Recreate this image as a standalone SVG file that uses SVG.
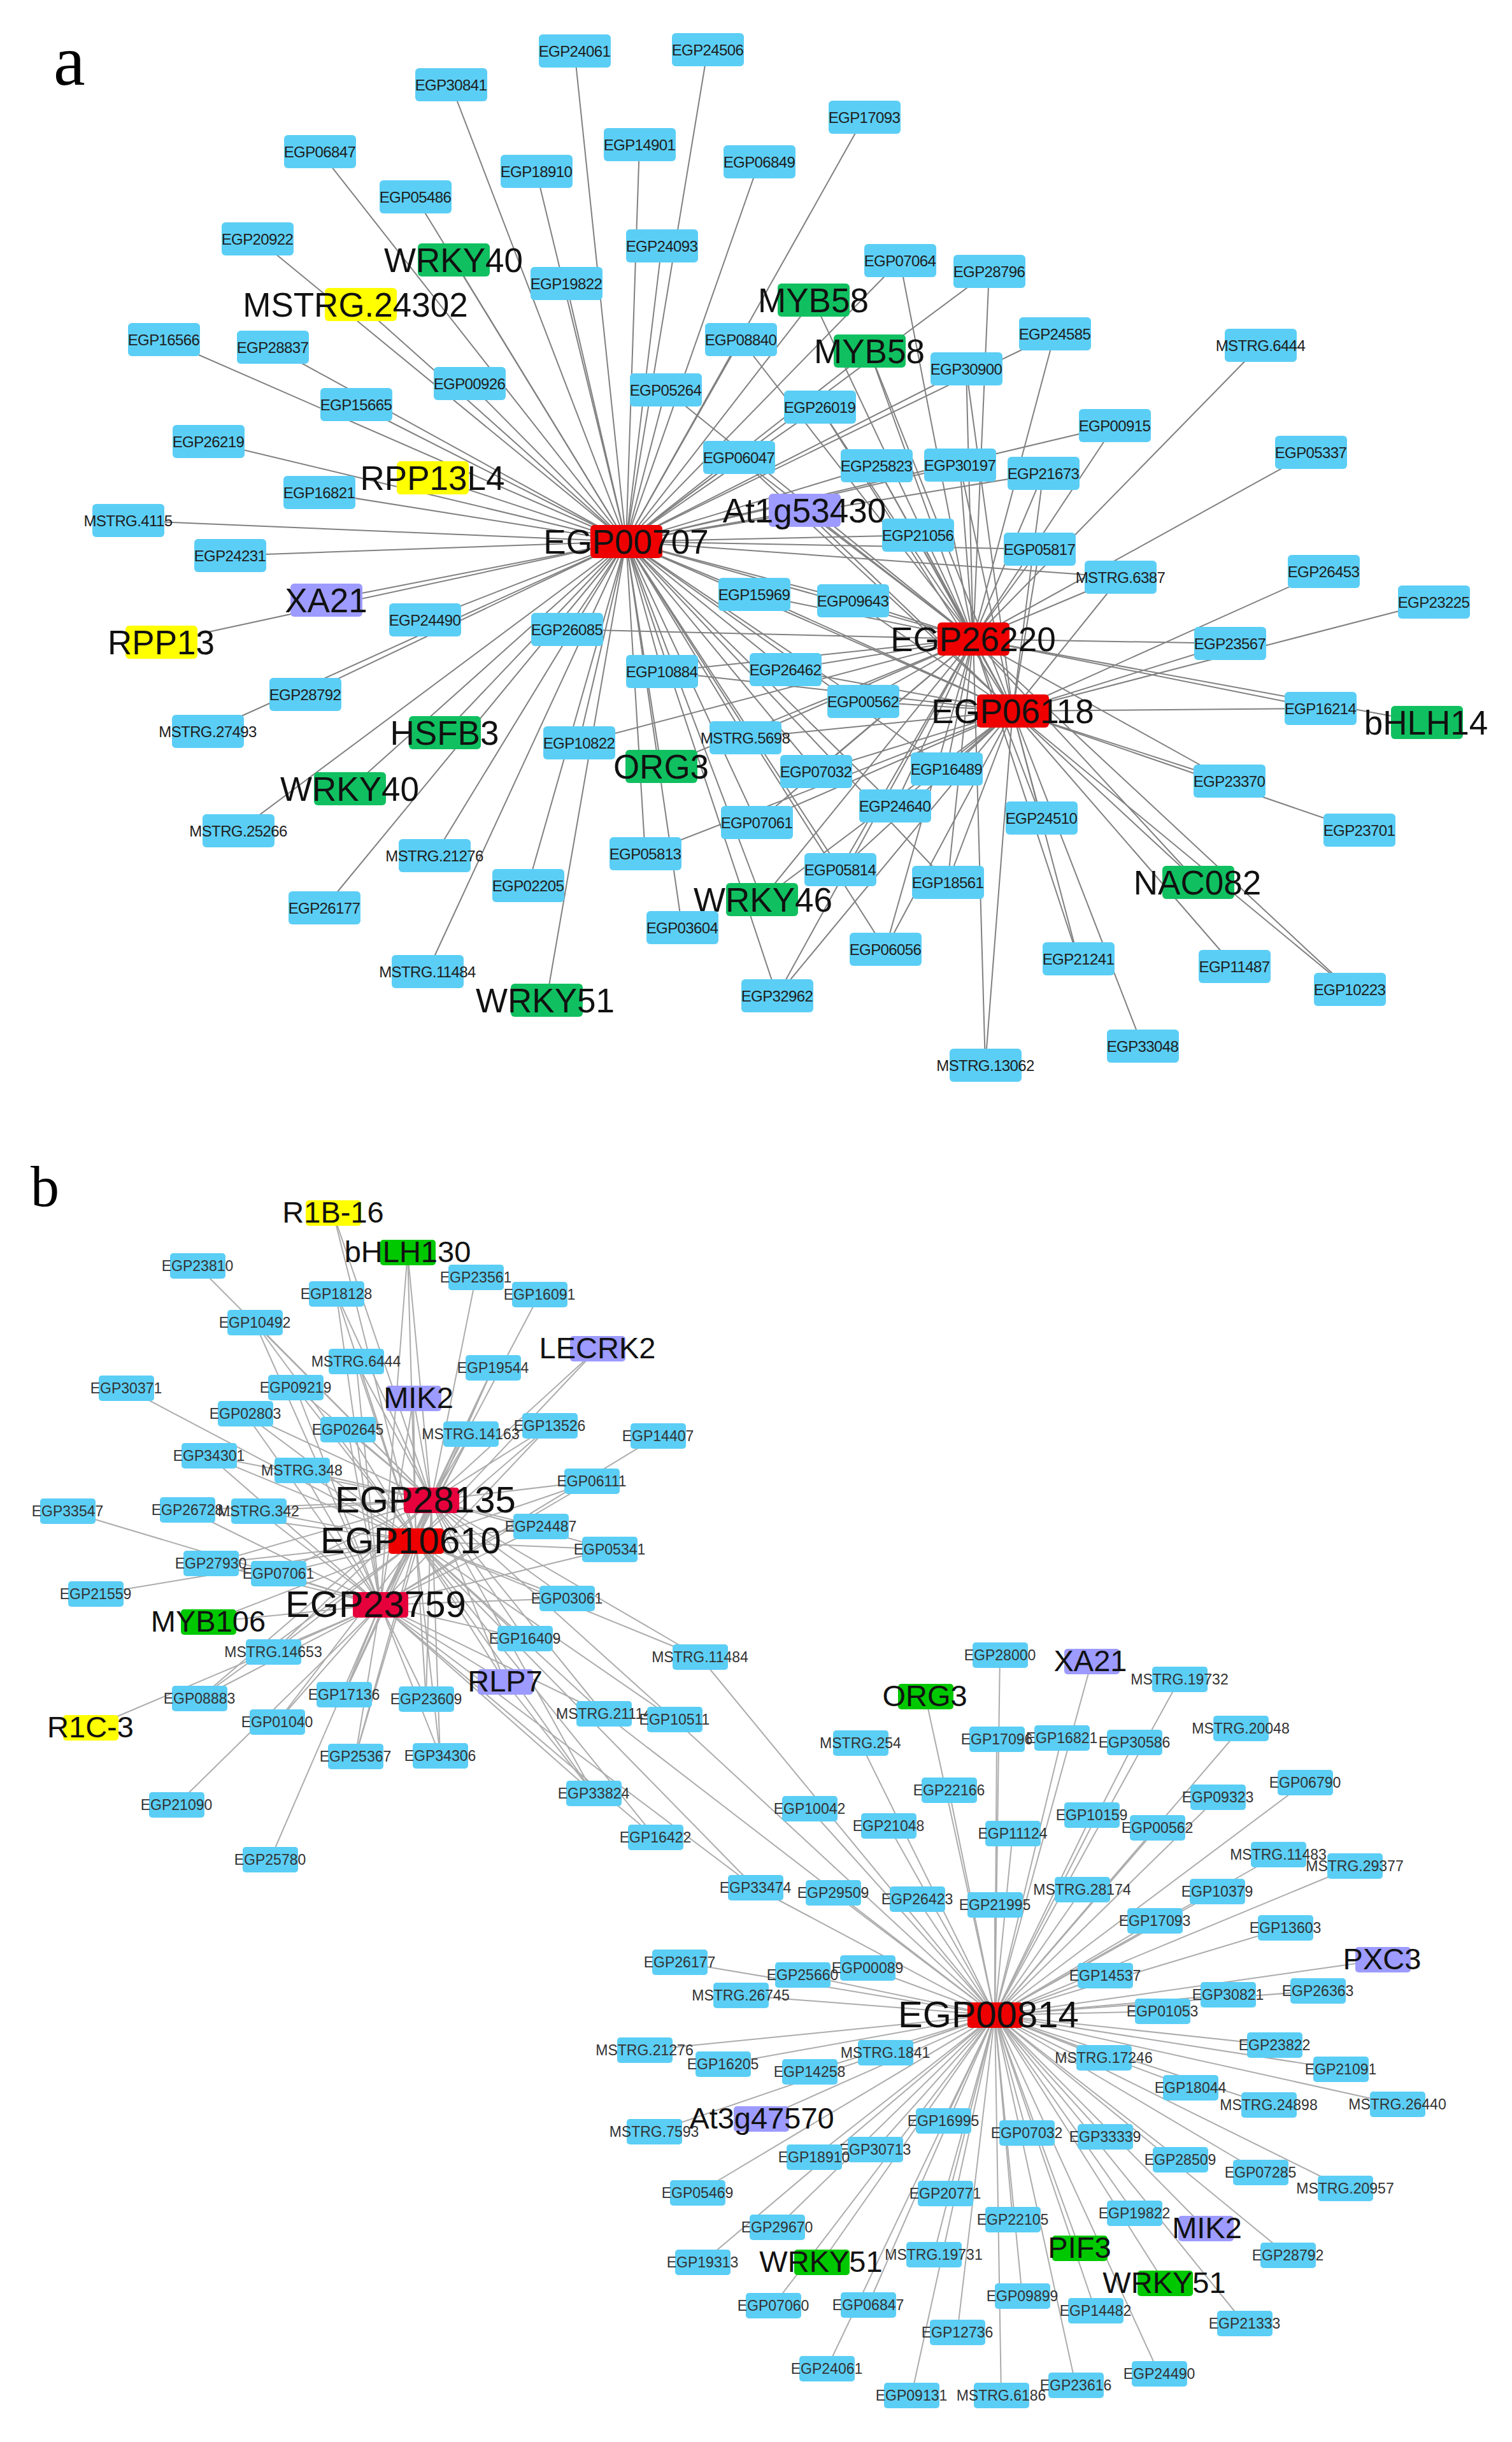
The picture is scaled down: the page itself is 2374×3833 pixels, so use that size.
<svg xmlns="http://www.w3.org/2000/svg" width="2374" height="3833" viewBox="0 0 2374 3833">
<style>
.ea path{stroke:#808080;stroke-width:2;fill:none}
.eb path{stroke:#acacac;stroke-width:2;fill:none}
.bl{fill:#5BCEF5}.ga{fill:#10C060}.gb{fill:#00C800}.ye{fill:#FFFF00}.pu{fill:#9D9BFF}.rd{fill:#EE0000}.cr{fill:#E6003C}
text{font-family:'Liberation Sans',Arial,sans-serif;text-anchor:middle;dominant-baseline:central}
.s{font-size:24px;letter-spacing:-0.6px;fill:#1e1e1e}
.L{font-size:53px;fill:#111}
.t{font-size:23px;fill:#333}
.M{font-size:47px;fill:#111}
.H{font-size:58px;fill:#111}
.pl{font-family:'Liberation Serif','Times New Roman',serif;text-anchor:start;dominant-baseline:alphabetic;fill:#000}
</style>
<rect width="2374" height="3833" fill="#fff"/>
<text class="pl" x="84" y="133" font-size="112">a</text>
<text class="pl" x="48" y="1893" font-size="90">b</text>
<g id="connectors-a" class="ea">
<path d="M983 850L902 80"/><path d="M983 850L1111 78"/><path d="M983 850L708 133"/><path d="M983 850L1357 184"/><path d="M983 850L502 238"/><path d="M983 850L1004 227"/><path d="M983 850L842 269"/><path d="M983 850L1192 254"/><path d="M983 850L652 309"/><path d="M983 850L404 375"/><path d="M983 850L712 408"/><path d="M983 850L889 445"/><path d="M983 850L1039 386"/><path d="M983 850L1413 409"/><path d="M983 850L1553 426"/><path d="M983 850L566 478"/><path d="M983 850L1277 471"/><path d="M983 850L1163 533"/><path d="M983 850L1365 551"/><path d="M983 850L1656 524"/><path d="M983 850L257 533"/><path d="M983 850L428 545"/><path d="M983 850L737 602"/><path d="M983 850L1045 612"/><path d="M983 850L1517 579"/><path d="M983 850L559 635"/><path d="M983 850L1287 639"/><path d="M983 850L1750 668"/><path d="M983 850L327 693"/><path d="M983 850L679 750"/><path d="M983 850L1160 718"/><path d="M983 850L1376 731"/><path d="M983 850L1507 730"/><path d="M983 850L1638 743"/><path d="M983 850L501 773"/><path d="M983 850L1263 801"/><path d="M983 850L201 817"/><path d="M983 850L1441 840"/><path d="M983 850L1632 862"/><path d="M983 850L361 872"/><path d="M983 850L1759 906"/><path d="M983 850L512 942"/><path d="M983 850L1184 933"/><path d="M983 850L1339 943"/><path d="M983 850L253 1008"/><path d="M983 850L667 973"/><path d="M983 850L890 988"/><path d="M983 850L1039 1054"/><path d="M983 850L1233 1051"/><path d="M983 850L479 1090"/><path d="M983 850L1355 1101"/><path d="M983 850L326 1148"/><path d="M983 850L698 1150"/><path d="M983 850L909 1166"/><path d="M983 850L1170 1158"/><path d="M983 850L1038 1203"/><path d="M983 850L1281 1211"/><path d="M983 850L1486 1207"/><path d="M983 850L549 1238"/><path d="M983 850L1188 1291"/><path d="M983 850L1405 1265"/><path d="M983 850L374 1304"/><path d="M983 850L682 1343"/><path d="M983 850L1013 1340"/><path d="M983 850L829 1390"/><path d="M983 850L1319 1365"/><path d="M983 850L1196 1412"/><path d="M983 850L1488 1385"/><path d="M983 850L509 1425"/><path d="M983 850L1071 1456"/><path d="M983 850L1390 1490"/><path d="M983 850L671 1525"/><path d="M983 850L858 1570"/><path d="M983 850L1220 1563"/><path d="M983 850L1528 1003"/><path d="M983 850L1590 1116"/>
<path d="M1528 1003L1413 409"/><path d="M1528 1003L1553 426"/><path d="M1528 1003L1277 471"/><path d="M1528 1003L1163 533"/><path d="M1528 1003L1365 551"/><path d="M1528 1003L1656 524"/><path d="M1528 1003L1979 542"/><path d="M1528 1003L1045 612"/><path d="M1528 1003L1517 579"/><path d="M1528 1003L1287 639"/><path d="M1528 1003L1750 668"/><path d="M1528 1003L1160 718"/><path d="M1528 1003L1376 731"/><path d="M1528 1003L1507 730"/><path d="M1528 1003L1638 743"/><path d="M1528 1003L2058 710"/><path d="M1528 1003L1263 801"/><path d="M1528 1003L1441 840"/><path d="M1528 1003L1632 862"/><path d="M1528 1003L1759 906"/><path d="M1528 1003L1184 933"/><path d="M1528 1003L1339 943"/><path d="M1528 1003L890 988"/><path d="M1528 1003L1931 1010"/><path d="M1528 1003L1039 1054"/><path d="M1528 1003L1233 1051"/><path d="M1528 1003L1355 1101"/><path d="M1528 1003L2073 1112"/><path d="M1528 1003L2240 1134"/><path d="M1528 1003L909 1166"/><path d="M1528 1003L1170 1158"/><path d="M1528 1003L1038 1203"/><path d="M1528 1003L1281 1211"/><path d="M1528 1003L1486 1207"/><path d="M1528 1003L1930 1226"/><path d="M1528 1003L1188 1291"/><path d="M1528 1003L1405 1265"/><path d="M1528 1003L1635 1284"/><path d="M1528 1003L1319 1365"/><path d="M1528 1003L1196 1412"/><path d="M1528 1003L1881 1385"/><path d="M1528 1003L1488 1385"/><path d="M1528 1003L1390 1490"/><path d="M1528 1003L1693 1505"/><path d="M1528 1003L2119 1553"/><path d="M1528 1003L1220 1563"/><path d="M1528 1003L1547 1672"/><path d="M1528 1003L1590 1116"/>
<path d="M1590 1116L1365 551"/><path d="M1590 1116L1517 579"/><path d="M1590 1116L1287 639"/><path d="M1590 1116L1160 718"/><path d="M1590 1116L1376 731"/><path d="M1590 1116L1507 730"/><path d="M1590 1116L1638 743"/><path d="M1590 1116L1263 801"/><path d="M1590 1116L1441 840"/><path d="M1590 1116L1632 862"/><path d="M1590 1116L1759 906"/><path d="M1590 1116L2078 897"/><path d="M1590 1116L1184 933"/><path d="M1590 1116L1339 943"/><path d="M1590 1116L2251 945"/><path d="M1590 1116L1931 1010"/><path d="M1590 1116L1039 1054"/><path d="M1590 1116L1233 1051"/><path d="M1590 1116L1355 1101"/><path d="M1590 1116L2073 1112"/><path d="M1590 1116L1170 1158"/><path d="M1590 1116L1281 1211"/><path d="M1590 1116L1486 1207"/><path d="M1590 1116L1930 1226"/><path d="M1590 1116L1188 1291"/><path d="M1590 1116L1405 1265"/><path d="M1590 1116L1635 1284"/><path d="M1590 1116L2134 1303"/><path d="M1590 1116L1013 1340"/><path d="M1590 1116L1319 1365"/><path d="M1590 1116L1196 1412"/><path d="M1590 1116L1881 1385"/><path d="M1590 1116L1488 1385"/><path d="M1590 1116L1390 1490"/><path d="M1590 1116L1693 1505"/><path d="M1590 1116L1938 1517"/><path d="M1590 1116L2119 1553"/><path d="M1590 1116L1220 1563"/><path d="M1590 1116L1794 1642"/><path d="M1590 1116L1547 1672"/>
</g>
<g id="connectors-b" class="eb">
<path d="M677 2355L523 1904"/><path d="M677 2355L640 1966"/><path d="M677 2355L310 1987"/><path d="M677 2355L747 2005"/><path d="M677 2355L528 2031"/><path d="M677 2355L847 2032"/><path d="M677 2355L400 2076"/><path d="M677 2355L938 2117"/><path d="M677 2355L559 2137"/><path d="M677 2355L774 2147"/><path d="M677 2355L464 2178"/><path d="M677 2355L649 2195"/><path d="M677 2355L385 2219"/><path d="M677 2355L863 2238"/><path d="M677 2355L546 2244"/><path d="M677 2355L739 2251"/><path d="M677 2355L328 2285"/><path d="M677 2355L474 2308"/><path d="M677 2355L929 2325"/><path d="M677 2355L294 2370"/><path d="M677 2355L406 2372"/><path d="M677 2355L849 2396"/><path d="M677 2355L957 2432"/><path d="M677 2355L331 2454"/><path d="M677 2355L437 2470"/><path d="M677 2355L890 2509"/><path d="M677 2355L824 2572"/><path d="M677 2355L429 2593"/><path d="M677 2355L1099 2601"/><path d="M677 2355L793 2640"/><path d="M677 2355L540 2660"/><path d="M677 2355L313 2666"/><path d="M677 2355L669 2667"/><path d="M677 2355L948 2690"/><path d="M677 2355L1059 2699"/><path d="M677 2355L558 2757"/><path d="M677 2355L691 2756"/><path d="M677 2355L932 2815"/><path d="M677 2355L653 2419"/><path d="M677 2355L597 2519"/>
<path d="M653 2419L523 1904"/><path d="M653 2419L640 1966"/><path d="M653 2419L528 2031"/><path d="M653 2419L400 2076"/><path d="M653 2419L938 2117"/><path d="M653 2419L559 2137"/><path d="M653 2419L774 2147"/><path d="M653 2419L198 2179"/><path d="M653 2419L464 2178"/><path d="M653 2419L649 2195"/><path d="M653 2419L385 2219"/><path d="M653 2419L863 2238"/><path d="M653 2419L546 2244"/><path d="M653 2419L739 2251"/><path d="M653 2419L328 2285"/><path d="M653 2419L474 2308"/><path d="M653 2419L929 2325"/><path d="M653 2419L294 2370"/><path d="M653 2419L406 2372"/><path d="M653 2419L849 2396"/><path d="M653 2419L957 2432"/><path d="M653 2419L331 2454"/><path d="M653 2419L437 2470"/><path d="M653 2419L150 2502"/><path d="M653 2419L890 2509"/><path d="M653 2419L327 2546"/><path d="M653 2419L824 2572"/><path d="M653 2419L429 2593"/><path d="M653 2419L1099 2601"/><path d="M653 2419L793 2640"/><path d="M653 2419L540 2660"/><path d="M653 2419L313 2666"/><path d="M653 2419L669 2667"/><path d="M653 2419L948 2690"/><path d="M653 2419L1059 2699"/><path d="M653 2419L435 2703"/><path d="M653 2419L558 2757"/><path d="M653 2419L691 2756"/><path d="M653 2419L932 2815"/><path d="M653 2419L1029 2884"/><path d="M653 2419L1186 2963"/><path d="M653 2419L597 2519"/>
<path d="M597 2519L640 1966"/><path d="M597 2519L528 2031"/><path d="M597 2519L400 2076"/><path d="M597 2519L559 2137"/><path d="M597 2519L774 2147"/><path d="M597 2519L464 2178"/><path d="M597 2519L649 2195"/><path d="M597 2519L385 2219"/><path d="M597 2519L863 2238"/><path d="M597 2519L546 2244"/><path d="M597 2519L739 2251"/><path d="M597 2519L1033 2254"/><path d="M597 2519L328 2285"/><path d="M597 2519L474 2308"/><path d="M597 2519L929 2325"/><path d="M597 2519L106 2372"/><path d="M597 2519L294 2370"/><path d="M597 2519L406 2372"/><path d="M597 2519L849 2396"/><path d="M597 2519L957 2432"/><path d="M597 2519L331 2454"/><path d="M597 2519L437 2470"/><path d="M597 2519L890 2509"/><path d="M597 2519L327 2546"/><path d="M597 2519L824 2572"/><path d="M597 2519L429 2593"/><path d="M597 2519L793 2640"/><path d="M597 2519L540 2660"/><path d="M597 2519L313 2666"/><path d="M597 2519L669 2667"/><path d="M597 2519L948 2690"/><path d="M597 2519L435 2703"/><path d="M597 2519L142 2712"/><path d="M597 2519L558 2757"/><path d="M597 2519L691 2756"/><path d="M597 2519L932 2815"/><path d="M597 2519L277 2833"/><path d="M597 2519L1029 2884"/><path d="M597 2519L424 2919"/><path d="M597 2519L1186 2963"/>
<path d="M793 2640L932 2815"/>
<path d="M1562 3163L1099 2601"/><path d="M1562 3163L948 2690"/><path d="M1562 3163L1059 2699"/><path d="M1562 3163L1186 2963"/>
<path d="M1562 3163L1570 2598"/><path d="M1562 3163L1714 2608"/><path d="M1562 3163L1852 2636"/><path d="M1562 3163L1453 2663"/><path d="M1562 3163L1948 2713"/><path d="M1562 3163L1565 2730"/><path d="M1562 3163L1667 2728"/><path d="M1562 3163L1781 2735"/><path d="M1562 3163L1351 2736"/><path d="M1562 3163L2049 2798"/><path d="M1562 3163L1490 2810"/><path d="M1562 3163L1912 2821"/><path d="M1562 3163L1271 2839"/><path d="M1562 3163L1714 2849"/><path d="M1562 3163L1395 2866"/><path d="M1562 3163L1817 2869"/><path d="M1562 3163L1590 2878"/><path d="M1562 3163L2007 2911"/><path d="M1562 3163L2127 2929"/><path d="M1562 3163L1699 2966"/><path d="M1562 3163L1911 2969"/><path d="M1562 3163L1308 2971"/><path d="M1562 3163L1440 2981"/><path d="M1562 3163L1562 2990"/><path d="M1562 3163L1813 3015"/><path d="M1562 3163L2018 3026"/><path d="M1562 3163L2171 3076"/><path d="M1562 3163L1067 3080"/><path d="M1562 3163L1362 3089"/><path d="M1562 3163L1260 3100"/><path d="M1562 3163L1735 3101"/><path d="M1562 3163L2069 3125"/><path d="M1562 3163L1928 3131"/><path d="M1562 3163L1163 3132"/><path d="M1562 3163L1825 3157"/><path d="M1562 3163L2001 3210"/><path d="M1562 3163L1012 3218"/><path d="M1562 3163L1390 3222"/><path d="M1562 3163L1733 3230"/><path d="M1562 3163L1135 3240"/><path d="M1562 3163L2105 3248"/><path d="M1562 3163L1271 3252"/><path d="M1562 3163L1869 3277"/><path d="M1562 3163L1992 3304"/><path d="M1562 3163L2194 3303"/><path d="M1562 3163L1195 3326"/><path d="M1562 3163L1481 3329"/><path d="M1562 3163L1027 3346"/><path d="M1562 3163L1612 3348"/><path d="M1562 3163L1735 3354"/><path d="M1562 3163L1374 3374"/><path d="M1562 3163L1278 3386"/><path d="M1562 3163L1853 3390"/><path d="M1562 3163L1979 3410"/><path d="M1562 3163L2112 3435"/><path d="M1562 3163L1095 3442"/><path d="M1562 3163L1484 3443"/><path d="M1562 3163L1781 3474"/><path d="M1562 3163L1590 3484"/><path d="M1562 3163L1220 3496"/><path d="M1562 3163L1893 3498"/><path d="M1562 3163L1695 3529"/><path d="M1562 3163L1466 3539"/><path d="M1562 3163L2022 3540"/><path d="M1562 3163L1103 3551"/><path d="M1562 3163L1290 3551"/><path d="M1562 3163L1829 3584"/><path d="M1562 3163L1605 3604"/><path d="M1562 3163L1363 3618"/><path d="M1562 3163L1214 3619"/><path d="M1562 3163L1720 3627"/><path d="M1562 3163L1954 3647"/><path d="M1562 3163L1503 3661"/><path d="M1562 3163L1298 3718"/><path d="M1562 3163L1820 3726"/><path d="M1562 3163L1689 3744"/><path d="M1562 3163L1431 3760"/><path d="M1562 3163L1572 3760"/>
</g>
<g id="nodes-a">
<g id="a-EGP24061"><rect class="bl" x="846" y="54" width="113" height="52" rx="6"/><text class="s" x="902" y="80">EGP24061</text></g>
<g id="a-EGP24506"><rect class="bl" x="1055" y="52" width="113" height="52" rx="6"/><text class="s" x="1111" y="78">EGP24506</text></g>
<g id="a-EGP30841"><rect class="bl" x="652" y="107" width="113" height="52" rx="6"/><text class="s" x="708" y="133">EGP30841</text></g>
<g id="a-EGP17093"><rect class="bl" x="1301" y="158" width="113" height="52" rx="6"/><text class="s" x="1357" y="184">EGP17093</text></g>
<g id="a-EGP06847"><rect class="bl" x="446" y="212" width="113" height="52" rx="6"/><text class="s" x="502" y="238">EGP06847</text></g>
<g id="a-EGP14901"><rect class="bl" x="948" y="201" width="113" height="52" rx="6"/><text class="s" x="1004" y="227">EGP14901</text></g>
<g id="a-EGP18910"><rect class="bl" x="786" y="243" width="113" height="52" rx="6"/><text class="s" x="842" y="269">EGP18910</text></g>
<g id="a-EGP06849"><rect class="bl" x="1136" y="228" width="113" height="52" rx="6"/><text class="s" x="1192" y="254">EGP06849</text></g>
<g id="a-EGP05486"><rect class="bl" x="596" y="283" width="113" height="52" rx="6"/><text class="s" x="652" y="309">EGP05486</text></g>
<g id="a-EGP20922"><rect class="bl" x="348" y="349" width="113" height="52" rx="6"/><text class="s" x="404" y="375">EGP20922</text></g>
<g id="a-WRKY40-1"><rect class="ga" x="656" y="382" width="113" height="52" rx="6"/><text class="L" x="712" y="408">WRKY40</text></g>
<g id="a-EGP19822"><rect class="bl" x="833" y="419" width="113" height="52" rx="6"/><text class="s" x="889" y="445">EGP19822</text></g>
<g id="a-EGP24093"><rect class="bl" x="983" y="360" width="113" height="52" rx="6"/><text class="s" x="1039" y="386">EGP24093</text></g>
<g id="a-EGP07064"><rect class="bl" x="1357" y="383" width="113" height="52" rx="6"/><text class="s" x="1413" y="409">EGP07064</text></g>
<g id="a-EGP28796"><rect class="bl" x="1497" y="400" width="113" height="52" rx="6"/><text class="s" x="1553" y="426">EGP28796</text></g>
<g id="a-MSTRG.24302"><rect class="ye" x="510" y="452" width="113" height="52" rx="6"/><text class="L" x="558" y="478">MSTRG.24302</text></g>
<g id="a-MYB58-1"><rect class="ga" x="1221" y="445" width="113" height="52" rx="6"/><text class="L" x="1277" y="471">MYB58</text></g>
<g id="a-EGP08840"><rect class="bl" x="1107" y="507" width="113" height="52" rx="6"/><text class="s" x="1163" y="533">EGP08840</text></g>
<g id="a-MYB58-2"><rect class="ga" x="1309" y="525" width="113" height="52" rx="6"/><text class="L" x="1365" y="551">MYB58</text></g>
<g id="a-EGP24585"><rect class="bl" x="1600" y="498" width="113" height="52" rx="6"/><text class="s" x="1656" y="524">EGP24585</text></g>
<g id="a-MSTRG.6444"><rect class="bl" x="1923" y="516" width="113" height="52" rx="6"/><text class="s" x="1979" y="542">MSTRG.6444</text></g>
<g id="a-EGP16566"><rect class="bl" x="201" y="507" width="113" height="52" rx="6"/><text class="s" x="257" y="533">EGP16566</text></g>
<g id="a-EGP28837"><rect class="bl" x="372" y="519" width="113" height="52" rx="6"/><text class="s" x="428" y="545">EGP28837</text></g>
<g id="a-EGP00926"><rect class="bl" x="681" y="576" width="113" height="52" rx="6"/><text class="s" x="737" y="602">EGP00926</text></g>
<g id="a-EGP05264"><rect class="bl" x="989" y="586" width="113" height="52" rx="6"/><text class="s" x="1045" y="612">EGP05264</text></g>
<g id="a-EGP30900"><rect class="bl" x="1461" y="553" width="113" height="52" rx="6"/><text class="s" x="1517" y="579">EGP30900</text></g>
<g id="a-EGP15665"><rect class="bl" x="503" y="609" width="113" height="52" rx="6"/><text class="s" x="559" y="635">EGP15665</text></g>
<g id="a-EGP26019"><rect class="bl" x="1231" y="613" width="113" height="52" rx="6"/><text class="s" x="1287" y="639">EGP26019</text></g>
<g id="a-EGP00915"><rect class="bl" x="1694" y="642" width="113" height="52" rx="6"/><text class="s" x="1750" y="668">EGP00915</text></g>
<g id="a-EGP26219"><rect class="bl" x="271" y="667" width="113" height="52" rx="6"/><text class="s" x="327" y="693">EGP26219</text></g>
<g id="a-RPP13L4"><rect class="ye" x="623" y="724" width="113" height="52" rx="6"/><text class="L" x="679" y="750">RPP13L4</text></g>
<g id="a-EGP06047"><rect class="bl" x="1104" y="692" width="113" height="52" rx="6"/><text class="s" x="1160" y="718">EGP06047</text></g>
<g id="a-EGP25823"><rect class="bl" x="1320" y="705" width="113" height="52" rx="6"/><text class="s" x="1376" y="731">EGP25823</text></g>
<g id="a-EGP30197"><rect class="bl" x="1451" y="704" width="113" height="52" rx="6"/><text class="s" x="1507" y="730">EGP30197</text></g>
<g id="a-EGP21673"><rect class="bl" x="1582" y="717" width="113" height="52" rx="6"/><text class="s" x="1638" y="743">EGP21673</text></g>
<g id="a-EGP05337"><rect class="bl" x="2002" y="684" width="113" height="52" rx="6"/><text class="s" x="2058" y="710">EGP05337</text></g>
<g id="a-EGP16821"><rect class="bl" x="445" y="747" width="113" height="52" rx="6"/><text class="s" x="501" y="773">EGP16821</text></g>
<g id="a-At1g53430"><rect class="pu" x="1207" y="775" width="113" height="52" rx="6"/><text class="L" x="1263" y="801">At1g53430</text></g>
<g id="a-MSTRG.4115"><rect class="bl" x="145" y="791" width="113" height="52" rx="6"/><text class="s" x="201" y="817">MSTRG.4115</text></g>
<g id="a-EGP21056"><rect class="bl" x="1385" y="814" width="113" height="52" rx="6"/><text class="s" x="1441" y="840">EGP21056</text></g>
<g id="a-EGP05817"><rect class="bl" x="1576" y="836" width="113" height="52" rx="6"/><text class="s" x="1632" y="862">EGP05817</text></g>
<g id="a-EGP24231"><rect class="bl" x="305" y="846" width="113" height="52" rx="6"/><text class="s" x="361" y="872">EGP24231</text></g>
<g id="a-MSTRG.6387"><rect class="bl" x="1703" y="880" width="113" height="52" rx="6"/><text class="s" x="1759" y="906">MSTRG.6387</text></g>
<g id="a-EGP26453"><rect class="bl" x="2022" y="871" width="113" height="52" rx="6"/><text class="s" x="2078" y="897">EGP26453</text></g>
<g id="a-XA21"><rect class="pu" x="456" y="916" width="113" height="52" rx="6"/><text class="L" x="512" y="942">XA21</text></g>
<g id="a-EGP15969"><rect class="bl" x="1128" y="907" width="113" height="52" rx="6"/><text class="s" x="1184" y="933">EGP15969</text></g>
<g id="a-EGP09643"><rect class="bl" x="1283" y="917" width="113" height="52" rx="6"/><text class="s" x="1339" y="943">EGP09643</text></g>
<g id="a-EGP23225"><rect class="bl" x="2195" y="919" width="113" height="52" rx="6"/><text class="s" x="2251" y="945">EGP23225</text></g>
<g id="a-RPP13"><rect class="ye" x="197" y="982" width="113" height="52" rx="6"/><text class="L" x="253" y="1008">RPP13</text></g>
<g id="a-EGP24490"><rect class="bl" x="611" y="947" width="113" height="52" rx="6"/><text class="s" x="667" y="973">EGP24490</text></g>
<g id="a-EGP26085"><rect class="bl" x="834" y="962" width="113" height="52" rx="6"/><text class="s" x="890" y="988">EGP26085</text></g>
<g id="a-EGP23567"><rect class="bl" x="1875" y="984" width="113" height="52" rx="6"/><text class="s" x="1931" y="1010">EGP23567</text></g>
<g id="a-EGP10884"><rect class="bl" x="983" y="1028" width="113" height="52" rx="6"/><text class="s" x="1039" y="1054">EGP10884</text></g>
<g id="a-EGP26462"><rect class="bl" x="1177" y="1025" width="113" height="52" rx="6"/><text class="s" x="1233" y="1051">EGP26462</text></g>
<g id="a-EGP28792"><rect class="bl" x="423" y="1064" width="113" height="52" rx="6"/><text class="s" x="479" y="1090">EGP28792</text></g>
<g id="a-EGP00562"><rect class="bl" x="1299" y="1075" width="113" height="52" rx="6"/><text class="s" x="1355" y="1101">EGP00562</text></g>
<g id="a-EGP16214"><rect class="bl" x="2017" y="1086" width="113" height="52" rx="6"/><text class="s" x="2073" y="1112">EGP16214</text></g>
<g id="a-bHLH14"><rect class="ga" x="2184" y="1108" width="113" height="52" rx="6"/><text class="L" x="2239" y="1134">bHLH14</text></g>
<g id="a-MSTRG.27493"><rect class="bl" x="270" y="1122" width="113" height="52" rx="6"/><text class="s" x="326" y="1148">MSTRG.27493</text></g>
<g id="a-HSFB3"><rect class="ga" x="642" y="1124" width="113" height="52" rx="6"/><text class="L" x="698" y="1150">HSFB3</text></g>
<g id="a-EGP10822"><rect class="bl" x="853" y="1140" width="113" height="52" rx="6"/><text class="s" x="909" y="1166">EGP10822</text></g>
<g id="a-MSTRG.5698"><rect class="bl" x="1114" y="1132" width="113" height="52" rx="6"/><text class="s" x="1170" y="1158">MSTRG.5698</text></g>
<g id="a-ORG3"><rect class="ga" x="982" y="1177" width="113" height="52" rx="6"/><text class="L" x="1038" y="1203">ORG3</text></g>
<g id="a-EGP07032"><rect class="bl" x="1225" y="1185" width="113" height="52" rx="6"/><text class="s" x="1281" y="1211">EGP07032</text></g>
<g id="a-EGP16489"><rect class="bl" x="1430" y="1181" width="113" height="52" rx="6"/><text class="s" x="1486" y="1207">EGP16489</text></g>
<g id="a-WRKY40-2"><rect class="ga" x="493" y="1212" width="113" height="52" rx="6"/><text class="L" x="549" y="1238">WRKY40</text></g>
<g id="a-EGP23370"><rect class="bl" x="1874" y="1200" width="113" height="52" rx="6"/><text class="s" x="1930" y="1226">EGP23370</text></g>
<g id="a-EGP07061"><rect class="bl" x="1132" y="1265" width="113" height="52" rx="6"/><text class="s" x="1188" y="1291">EGP07061</text></g>
<g id="a-EGP24640"><rect class="bl" x="1349" y="1239" width="113" height="52" rx="6"/><text class="s" x="1405" y="1265">EGP24640</text></g>
<g id="a-EGP24510"><rect class="bl" x="1579" y="1258" width="113" height="52" rx="6"/><text class="s" x="1635" y="1284">EGP24510</text></g>
<g id="a-EGP23701"><rect class="bl" x="2078" y="1277" width="113" height="52" rx="6"/><text class="s" x="2134" y="1303">EGP23701</text></g>
<g id="a-MSTRG.25266"><rect class="bl" x="318" y="1278" width="113" height="52" rx="6"/><text class="s" x="374" y="1304">MSTRG.25266</text></g>
<g id="a-MSTRG.21276"><rect class="bl" x="626" y="1317" width="113" height="52" rx="6"/><text class="s" x="682" y="1343">MSTRG.21276</text></g>
<g id="a-EGP05813"><rect class="bl" x="957" y="1314" width="113" height="52" rx="6"/><text class="s" x="1013" y="1340">EGP05813</text></g>
<g id="a-EGP02205"><rect class="bl" x="773" y="1364" width="113" height="52" rx="6"/><text class="s" x="829" y="1390">EGP02205</text></g>
<g id="a-EGP05814"><rect class="bl" x="1263" y="1339" width="113" height="52" rx="6"/><text class="s" x="1319" y="1365">EGP05814</text></g>
<g id="a-WRKY46"><rect class="ga" x="1140" y="1386" width="113" height="52" rx="6"/><text class="L" x="1198" y="1412">WRKY46</text></g>
<g id="a-NAC082"><rect class="ga" x="1825" y="1359" width="113" height="52" rx="6"/><text class="L" x="1880" y="1385">NAC082</text></g>
<g id="a-EGP18561"><rect class="bl" x="1432" y="1359" width="113" height="52" rx="6"/><text class="s" x="1488" y="1385">EGP18561</text></g>
<g id="a-EGP26177"><rect class="bl" x="453" y="1399" width="113" height="52" rx="6"/><text class="s" x="509" y="1425">EGP26177</text></g>
<g id="a-EGP03604"><rect class="bl" x="1015" y="1430" width="113" height="52" rx="6"/><text class="s" x="1071" y="1456">EGP03604</text></g>
<g id="a-EGP06056"><rect class="bl" x="1334" y="1464" width="113" height="52" rx="6"/><text class="s" x="1390" y="1490">EGP06056</text></g>
<g id="a-EGP21241"><rect class="bl" x="1637" y="1479" width="113" height="52" rx="6"/><text class="s" x="1693" y="1505">EGP21241</text></g>
<g id="a-EGP11487"><rect class="bl" x="1882" y="1491" width="113" height="52" rx="6"/><text class="s" x="1938" y="1517">EGP11487</text></g>
<g id="a-EGP10223"><rect class="bl" x="2063" y="1527" width="113" height="52" rx="6"/><text class="s" x="2119" y="1553">EGP10223</text></g>
<g id="a-MSTRG.11484"><rect class="bl" x="615" y="1499" width="113" height="52" rx="6"/><text class="s" x="671" y="1525">MSTRG.11484</text></g>
<g id="a-WRKY51"><rect class="ga" x="802" y="1544" width="113" height="52" rx="6"/><text class="L" x="856" y="1570">WRKY51</text></g>
<g id="a-EGP32962"><rect class="bl" x="1164" y="1537" width="113" height="52" rx="6"/><text class="s" x="1220" y="1563">EGP32962</text></g>
<g id="a-EGP33048"><rect class="bl" x="1738" y="1616" width="113" height="52" rx="6"/><text class="s" x="1794" y="1642">EGP33048</text></g>
<g id="a-MSTRG.13062"><rect class="bl" x="1491" y="1646" width="113" height="52" rx="6"/><text class="s" x="1547" y="1672">MSTRG.13062</text></g>
<g id="a-EGP00707"><rect class="rd" x="927" y="824" width="113" height="52" rx="6"/><text class="L" x="983" y="850">EGP00707</text></g>
<g id="a-EGP26220"><rect class="rd" x="1472" y="977" width="113" height="52" rx="6"/><text class="L" x="1528" y="1003">EGP26220</text></g>
<g id="a-EGP06118"><rect class="rd" x="1534" y="1090" width="113" height="52" rx="6"/><text class="L" x="1590" y="1116">EGP06118</text></g>
</g>
<g id="nodes-b">
<g id="b-R1B-16"><rect class="ye" x="480" y="1884" width="87" height="40" rx="5"/><text class="M" x="523" y="1902">R1B-16</text></g>
<g id="b-bHLH130"><rect class="gb" x="597" y="1946" width="87" height="40" rx="5"/><text class="M" x="640" y="1964">bHLH130</text></g>
<g id="b-EGP23810"><rect class="bl" x="267" y="1967" width="87" height="40" rx="5"/><text class="t" x="310" y="1987">EGP23810</text></g>
<g id="b-EGP23561"><rect class="bl" x="704" y="1985" width="87" height="40" rx="5"/><text class="t" x="747" y="2005">EGP23561</text></g>
<g id="b-EGP18128"><rect class="bl" x="485" y="2011" width="87" height="40" rx="5"/><text class="t" x="528" y="2031">EGP18128</text></g>
<g id="b-EGP16091"><rect class="bl" x="804" y="2012" width="87" height="40" rx="5"/><text class="t" x="847" y="2032">EGP16091</text></g>
<g id="b-EGP10492"><rect class="bl" x="357" y="2056" width="87" height="40" rx="5"/><text class="t" x="400" y="2076">EGP10492</text></g>
<g id="b-LECRK2"><rect class="pu" x="895" y="2097" width="87" height="40" rx="5"/><text class="M" x="938" y="2115">LECRK2</text></g>
<g id="b-MSTRG.6444"><rect class="bl" x="516" y="2117" width="87" height="40" rx="5"/><text class="t" x="559" y="2137">MSTRG.6444</text></g>
<g id="b-EGP19544"><rect class="bl" x="731" y="2127" width="87" height="40" rx="5"/><text class="t" x="774" y="2147">EGP19544</text></g>
<g id="b-EGP30371"><rect class="bl" x="155" y="2159" width="87" height="40" rx="5"/><text class="t" x="198" y="2179">EGP30371</text></g>
<g id="b-EGP09219"><rect class="bl" x="421" y="2158" width="87" height="40" rx="5"/><text class="t" x="464" y="2178">EGP09219</text></g>
<g id="b-MIK2-1"><rect class="pu" x="606" y="2175" width="87" height="40" rx="5"/><text class="M" x="657" y="2193">MIK2</text></g>
<g id="b-EGP02803"><rect class="bl" x="342" y="2199" width="87" height="40" rx="5"/><text class="t" x="385" y="2219">EGP02803</text></g>
<g id="b-EGP13526"><rect class="bl" x="820" y="2218" width="87" height="40" rx="5"/><text class="t" x="863" y="2238">EGP13526</text></g>
<g id="b-EGP02645"><rect class="bl" x="503" y="2224" width="87" height="40" rx="5"/><text class="t" x="546" y="2244">EGP02645</text></g>
<g id="b-MSTRG.14163"><rect class="bl" x="696" y="2231" width="87" height="40" rx="5"/><text class="t" x="739" y="2251">MSTRG.14163</text></g>
<g id="b-EGP14407"><rect class="bl" x="990" y="2234" width="87" height="40" rx="5"/><text class="t" x="1033" y="2254">EGP14407</text></g>
<g id="b-EGP34301"><rect class="bl" x="285" y="2265" width="87" height="40" rx="5"/><text class="t" x="328" y="2285">EGP34301</text></g>
<g id="b-MSTRG.348"><rect class="bl" x="431" y="2288" width="87" height="40" rx="5"/><text class="t" x="474" y="2308">MSTRG.348</text></g>
<g id="b-EGP06111"><rect class="bl" x="886" y="2305" width="87" height="40" rx="5"/><text class="t" x="929" y="2325">EGP06111</text></g>
<g id="b-EGP33547"><rect class="bl" x="63" y="2352" width="87" height="40" rx="5"/><text class="t" x="106" y="2372">EGP33547</text></g>
<g id="b-EGP26728"><rect class="bl" x="251" y="2350" width="87" height="40" rx="5"/><text class="t" x="294" y="2370">EGP26728</text></g>
<g id="b-MSTRG.342"><rect class="bl" x="363" y="2352" width="87" height="40" rx="5"/><text class="t" x="406" y="2372">MSTRG.342</text></g>
<g id="b-EGP24487"><rect class="bl" x="806" y="2376" width="87" height="40" rx="5"/><text class="t" x="849" y="2396">EGP24487</text></g>
<g id="b-EGP05341"><rect class="bl" x="914" y="2412" width="87" height="40" rx="5"/><text class="t" x="957" y="2432">EGP05341</text></g>
<g id="b-EGP27930"><rect class="bl" x="288" y="2434" width="87" height="40" rx="5"/><text class="t" x="331" y="2454">EGP27930</text></g>
<g id="b-EGP07061"><rect class="bl" x="394" y="2450" width="87" height="40" rx="5"/><text class="t" x="437" y="2470">EGP07061</text></g>
<g id="b-EGP21559"><rect class="bl" x="107" y="2482" width="87" height="40" rx="5"/><text class="t" x="150" y="2502">EGP21559</text></g>
<g id="b-EGP03061"><rect class="bl" x="847" y="2489" width="87" height="40" rx="5"/><text class="t" x="890" y="2509">EGP03061</text></g>
<g id="b-MYB106"><rect class="gb" x="284" y="2526" width="87" height="40" rx="5"/><text class="M" x="327" y="2544">MYB106</text></g>
<g id="b-EGP16409"><rect class="bl" x="781" y="2552" width="87" height="40" rx="5"/><text class="t" x="824" y="2572">EGP16409</text></g>
<g id="b-MSTRG.14653"><rect class="bl" x="386" y="2573" width="87" height="40" rx="5"/><text class="t" x="429" y="2593">MSTRG.14653</text></g>
<g id="b-MSTRG.11484"><rect class="bl" x="1056" y="2581" width="87" height="40" rx="5"/><text class="t" x="1099" y="2601">MSTRG.11484</text></g>
<g id="b-RLP7"><rect class="pu" x="750" y="2620" width="87" height="40" rx="5"/><text class="M" x="793" y="2638">RLP7</text></g>
<g id="b-EGP17136"><rect class="bl" x="497" y="2640" width="87" height="40" rx="5"/><text class="t" x="540" y="2660">EGP17136</text></g>
<g id="b-EGP08883"><rect class="bl" x="270" y="2646" width="87" height="40" rx="5"/><text class="t" x="313" y="2666">EGP08883</text></g>
<g id="b-EGP23609"><rect class="bl" x="626" y="2647" width="87" height="40" rx="5"/><text class="t" x="669" y="2667">EGP23609</text></g>
<g id="b-MSTRG.21114"><rect class="bl" x="905" y="2670" width="87" height="40" rx="5"/><text class="t" x="948" y="2690">MSTRG.21114</text></g>
<g id="b-EGP10511"><rect class="bl" x="1016" y="2679" width="87" height="40" rx="5"/><text class="t" x="1059" y="2699">EGP10511</text></g>
<g id="b-EGP01040"><rect class="bl" x="392" y="2683" width="87" height="40" rx="5"/><text class="t" x="435" y="2703">EGP01040</text></g>
<g id="b-R1C-3"><rect class="ye" x="99" y="2692" width="87" height="40" rx="5"/><text class="M" x="142" y="2710">R1C-3</text></g>
<g id="b-EGP25367"><rect class="bl" x="515" y="2737" width="87" height="40" rx="5"/><text class="t" x="558" y="2757">EGP25367</text></g>
<g id="b-EGP34306"><rect class="bl" x="648" y="2736" width="87" height="40" rx="5"/><text class="t" x="691" y="2756">EGP34306</text></g>
<g id="b-EGP33824"><rect class="bl" x="889" y="2795" width="87" height="40" rx="5"/><text class="t" x="932" y="2815">EGP33824</text></g>
<g id="b-EGP21090"><rect class="bl" x="234" y="2813" width="87" height="40" rx="5"/><text class="t" x="277" y="2833">EGP21090</text></g>
<g id="b-EGP16422"><rect class="bl" x="986" y="2864" width="87" height="40" rx="5"/><text class="t" x="1029" y="2884">EGP16422</text></g>
<g id="b-EGP25780"><rect class="bl" x="381" y="2899" width="87" height="40" rx="5"/><text class="t" x="424" y="2919">EGP25780</text></g>
<g id="b-EGP33474"><rect class="bl" x="1143" y="2943" width="87" height="40" rx="5"/><text class="t" x="1186" y="2963">EGP33474</text></g>
<g id="b-EGP28135"><rect class="cr" x="634" y="2335" width="87" height="40" rx="5"/><text class="H" x="668" y="2353">EGP28135</text></g>
<g id="b-EGP10610"><rect class="rd" x="610" y="2399" width="87" height="40" rx="5"/><text class="H" x="645" y="2417">EGP10610</text></g>
<g id="b-EGP23759"><rect class="cr" x="554" y="2499" width="87" height="40" rx="5"/><text class="H" x="590" y="2517">EGP23759</text></g>
<g id="b-EGP28000"><rect class="bl" x="1527" y="2578" width="87" height="40" rx="5"/><text class="t" x="1570" y="2598">EGP28000</text></g>
<g id="b-XA21"><rect class="pu" x="1671" y="2588" width="87" height="40" rx="5"/><text class="M" x="1712" y="2606">XA21</text></g>
<g id="b-MSTRG.19732"><rect class="bl" x="1809" y="2616" width="87" height="40" rx="5"/><text class="t" x="1852" y="2636">MSTRG.19732</text></g>
<g id="b-ORG3"><rect class="gb" x="1410" y="2643" width="87" height="40" rx="5"/><text class="M" x="1452" y="2661">ORG3</text></g>
<g id="b-MSTRG.20048"><rect class="bl" x="1905" y="2693" width="87" height="40" rx="5"/><text class="t" x="1948" y="2713">MSTRG.20048</text></g>
<g id="b-EGP17096"><rect class="bl" x="1522" y="2710" width="87" height="40" rx="5"/><text class="t" x="1565" y="2730">EGP17096</text></g>
<g id="b-EGP16821"><rect class="bl" x="1624" y="2708" width="87" height="40" rx="5"/><text class="t" x="1667" y="2728">EGP16821</text></g>
<g id="b-EGP30586"><rect class="bl" x="1738" y="2715" width="87" height="40" rx="5"/><text class="t" x="1781" y="2735">EGP30586</text></g>
<g id="b-MSTRG.254"><rect class="bl" x="1308" y="2716" width="87" height="40" rx="5"/><text class="t" x="1351" y="2736">MSTRG.254</text></g>
<g id="b-EGP06790"><rect class="bl" x="2006" y="2778" width="87" height="40" rx="5"/><text class="t" x="2049" y="2798">EGP06790</text></g>
<g id="b-EGP22166"><rect class="bl" x="1447" y="2790" width="87" height="40" rx="5"/><text class="t" x="1490" y="2810">EGP22166</text></g>
<g id="b-EGP09323"><rect class="bl" x="1869" y="2801" width="87" height="40" rx="5"/><text class="t" x="1912" y="2821">EGP09323</text></g>
<g id="b-EGP10042"><rect class="bl" x="1228" y="2819" width="87" height="40" rx="5"/><text class="t" x="1271" y="2839">EGP10042</text></g>
<g id="b-EGP10159"><rect class="bl" x="1671" y="2829" width="87" height="40" rx="5"/><text class="t" x="1714" y="2849">EGP10159</text></g>
<g id="b-EGP21048"><rect class="bl" x="1352" y="2846" width="87" height="40" rx="5"/><text class="t" x="1395" y="2866">EGP21048</text></g>
<g id="b-EGP00562"><rect class="bl" x="1774" y="2849" width="87" height="40" rx="5"/><text class="t" x="1817" y="2869">EGP00562</text></g>
<g id="b-EGP11124"><rect class="bl" x="1547" y="2858" width="87" height="40" rx="5"/><text class="t" x="1590" y="2878">EGP11124</text></g>
<g id="b-MSTRG.11483"><rect class="bl" x="1964" y="2891" width="87" height="40" rx="5"/><text class="t" x="2007" y="2911">MSTRG.11483</text></g>
<g id="b-MSTRG.29377"><rect class="bl" x="2084" y="2909" width="87" height="40" rx="5"/><text class="t" x="2127" y="2929">MSTRG.29377</text></g>
<g id="b-MSTRG.28174"><rect class="bl" x="1656" y="2946" width="87" height="40" rx="5"/><text class="t" x="1699" y="2966">MSTRG.28174</text></g>
<g id="b-EGP10379"><rect class="bl" x="1868" y="2949" width="87" height="40" rx="5"/><text class="t" x="1911" y="2969">EGP10379</text></g>
<g id="b-EGP29509"><rect class="bl" x="1265" y="2951" width="87" height="40" rx="5"/><text class="t" x="1308" y="2971">EGP29509</text></g>
<g id="b-EGP26423"><rect class="bl" x="1397" y="2961" width="87" height="40" rx="5"/><text class="t" x="1440" y="2981">EGP26423</text></g>
<g id="b-EGP21995"><rect class="bl" x="1519" y="2970" width="87" height="40" rx="5"/><text class="t" x="1562" y="2990">EGP21995</text></g>
<g id="b-EGP17093"><rect class="bl" x="1770" y="2995" width="87" height="40" rx="5"/><text class="t" x="1813" y="3015">EGP17093</text></g>
<g id="b-EGP13603"><rect class="bl" x="1975" y="3006" width="87" height="40" rx="5"/><text class="t" x="2018" y="3026">EGP13603</text></g>
<g id="b-PXC3"><rect class="pu" x="2128" y="3056" width="87" height="40" rx="5"/><text class="M" x="2170" y="3074">PXC3</text></g>
<g id="b-EGP26177"><rect class="bl" x="1024" y="3060" width="87" height="40" rx="5"/><text class="t" x="1067" y="3080">EGP26177</text></g>
<g id="b-EGP00089"><rect class="bl" x="1319" y="3069" width="87" height="40" rx="5"/><text class="t" x="1362" y="3089">EGP00089</text></g>
<g id="b-EGP25660"><rect class="bl" x="1217" y="3080" width="87" height="40" rx="5"/><text class="t" x="1260" y="3100">EGP25660</text></g>
<g id="b-EGP14537"><rect class="bl" x="1692" y="3081" width="87" height="40" rx="5"/><text class="t" x="1735" y="3101">EGP14537</text></g>
<g id="b-EGP26363"><rect class="bl" x="2026" y="3105" width="87" height="40" rx="5"/><text class="t" x="2069" y="3125">EGP26363</text></g>
<g id="b-EGP30821"><rect class="bl" x="1885" y="3111" width="87" height="40" rx="5"/><text class="t" x="1928" y="3131">EGP30821</text></g>
<g id="b-MSTRG.26745"><rect class="bl" x="1120" y="3112" width="87" height="40" rx="5"/><text class="t" x="1163" y="3132">MSTRG.26745</text></g>
<g id="b-EGP01053"><rect class="bl" x="1782" y="3137" width="87" height="40" rx="5"/><text class="t" x="1825" y="3157">EGP01053</text></g>
<g id="b-EGP23822"><rect class="bl" x="1958" y="3190" width="87" height="40" rx="5"/><text class="t" x="2001" y="3210">EGP23822</text></g>
<g id="b-MSTRG.21276"><rect class="bl" x="969" y="3198" width="87" height="40" rx="5"/><text class="t" x="1012" y="3218">MSTRG.21276</text></g>
<g id="b-MSTRG.1841"><rect class="bl" x="1347" y="3202" width="87" height="40" rx="5"/><text class="t" x="1390" y="3222">MSTRG.1841</text></g>
<g id="b-MSTRG.17246"><rect class="bl" x="1690" y="3210" width="87" height="40" rx="5"/><text class="t" x="1733" y="3230">MSTRG.17246</text></g>
<g id="b-EGP16205"><rect class="bl" x="1092" y="3220" width="87" height="40" rx="5"/><text class="t" x="1135" y="3240">EGP16205</text></g>
<g id="b-EGP21091"><rect class="bl" x="2062" y="3228" width="87" height="40" rx="5"/><text class="t" x="2105" y="3248">EGP21091</text></g>
<g id="b-EGP14258"><rect class="bl" x="1228" y="3232" width="87" height="40" rx="5"/><text class="t" x="1271" y="3252">EGP14258</text></g>
<g id="b-EGP18044"><rect class="bl" x="1826" y="3257" width="87" height="40" rx="5"/><text class="t" x="1869" y="3277">EGP18044</text></g>
<g id="b-MSTRG.24898"><rect class="bl" x="1949" y="3284" width="87" height="40" rx="5"/><text class="t" x="1992" y="3304">MSTRG.24898</text></g>
<g id="b-MSTRG.26440"><rect class="bl" x="2151" y="3283" width="87" height="40" rx="5"/><text class="t" x="2194" y="3303">MSTRG.26440</text></g>
<g id="b-At3g47570"><rect class="pu" x="1152" y="3306" width="87" height="40" rx="5"/><text class="M" x="1196" y="3324">At3g47570</text></g>
<g id="b-EGP16995"><rect class="bl" x="1438" y="3309" width="87" height="40" rx="5"/><text class="t" x="1481" y="3329">EGP16995</text></g>
<g id="b-MSTRG.7593"><rect class="bl" x="984" y="3326" width="87" height="40" rx="5"/><text class="t" x="1027" y="3346">MSTRG.7593</text></g>
<g id="b-EGP07032"><rect class="bl" x="1569" y="3328" width="87" height="40" rx="5"/><text class="t" x="1612" y="3348">EGP07032</text></g>
<g id="b-EGP33339"><rect class="bl" x="1692" y="3334" width="87" height="40" rx="5"/><text class="t" x="1735" y="3354">EGP33339</text></g>
<g id="b-EGP30713"><rect class="bl" x="1331" y="3354" width="87" height="40" rx="5"/><text class="t" x="1374" y="3374">EGP30713</text></g>
<g id="b-EGP18910"><rect class="bl" x="1235" y="3366" width="87" height="40" rx="5"/><text class="t" x="1278" y="3386">EGP18910</text></g>
<g id="b-EGP28509"><rect class="bl" x="1810" y="3370" width="87" height="40" rx="5"/><text class="t" x="1853" y="3390">EGP28509</text></g>
<g id="b-EGP07285"><rect class="bl" x="1936" y="3390" width="87" height="40" rx="5"/><text class="t" x="1979" y="3410">EGP07285</text></g>
<g id="b-MSTRG.20957"><rect class="bl" x="2069" y="3415" width="87" height="40" rx="5"/><text class="t" x="2112" y="3435">MSTRG.20957</text></g>
<g id="b-EGP05469"><rect class="bl" x="1052" y="3422" width="87" height="40" rx="5"/><text class="t" x="1095" y="3442">EGP05469</text></g>
<g id="b-EGP20771"><rect class="bl" x="1441" y="3423" width="87" height="40" rx="5"/><text class="t" x="1484" y="3443">EGP20771</text></g>
<g id="b-EGP19822"><rect class="bl" x="1738" y="3454" width="87" height="40" rx="5"/><text class="t" x="1781" y="3474">EGP19822</text></g>
<g id="b-EGP22105"><rect class="bl" x="1547" y="3464" width="87" height="40" rx="5"/><text class="t" x="1590" y="3484">EGP22105</text></g>
<g id="b-EGP29670"><rect class="bl" x="1177" y="3476" width="87" height="40" rx="5"/><text class="t" x="1220" y="3496">EGP29670</text></g>
<g id="b-MIK2-2"><rect class="pu" x="1850" y="3478" width="87" height="40" rx="5"/><text class="M" x="1895" y="3496">MIK2</text></g>
<g id="b-PIF3"><rect class="gb" x="1652" y="3509" width="87" height="40" rx="5"/><text class="M" x="1695" y="3527">PIF3</text></g>
<g id="b-MSTRG.19731"><rect class="bl" x="1423" y="3519" width="87" height="40" rx="5"/><text class="t" x="1466" y="3539">MSTRG.19731</text></g>
<g id="b-EGP28792"><rect class="bl" x="1979" y="3520" width="87" height="40" rx="5"/><text class="t" x="2022" y="3540">EGP28792</text></g>
<g id="b-EGP19313"><rect class="bl" x="1060" y="3531" width="87" height="40" rx="5"/><text class="t" x="1103" y="3551">EGP19313</text></g>
<g id="b-WRKY51-1"><rect class="gb" x="1247" y="3531" width="87" height="40" rx="5"/><text class="M" x="1289" y="3549">WRKY51</text></g>
<g id="b-WRKY51-2"><rect class="gb" x="1786" y="3564" width="87" height="40" rx="5"/><text class="M" x="1828" y="3582">WRKY51</text></g>
<g id="b-EGP09899"><rect class="bl" x="1562" y="3584" width="87" height="40" rx="5"/><text class="t" x="1605" y="3604">EGP09899</text></g>
<g id="b-EGP06847"><rect class="bl" x="1320" y="3598" width="87" height="40" rx="5"/><text class="t" x="1363" y="3618">EGP06847</text></g>
<g id="b-EGP07060"><rect class="bl" x="1171" y="3599" width="87" height="40" rx="5"/><text class="t" x="1214" y="3619">EGP07060</text></g>
<g id="b-EGP14482"><rect class="bl" x="1677" y="3607" width="87" height="40" rx="5"/><text class="t" x="1720" y="3627">EGP14482</text></g>
<g id="b-EGP21333"><rect class="bl" x="1911" y="3627" width="87" height="40" rx="5"/><text class="t" x="1954" y="3647">EGP21333</text></g>
<g id="b-EGP12736"><rect class="bl" x="1460" y="3641" width="87" height="40" rx="5"/><text class="t" x="1503" y="3661">EGP12736</text></g>
<g id="b-EGP24061"><rect class="bl" x="1255" y="3698" width="87" height="40" rx="5"/><text class="t" x="1298" y="3718">EGP24061</text></g>
<g id="b-EGP24490"><rect class="bl" x="1777" y="3706" width="87" height="40" rx="5"/><text class="t" x="1820" y="3726">EGP24490</text></g>
<g id="b-EGP23616"><rect class="bl" x="1646" y="3724" width="87" height="40" rx="5"/><text class="t" x="1689" y="3744">EGP23616</text></g>
<g id="b-EGP09131"><rect class="bl" x="1388" y="3740" width="87" height="40" rx="5"/><text class="t" x="1431" y="3760">EGP09131</text></g>
<g id="b-MSTRG.6186"><rect class="bl" x="1529" y="3740" width="87" height="40" rx="5"/><text class="t" x="1572" y="3760">MSTRG.6186</text></g>
<g id="b-EGP00814"><rect class="rd" x="1519" y="3143" width="87" height="40" rx="5"/><text class="H" x="1552" y="3161">EGP00814</text></g>
</g>
</svg>
